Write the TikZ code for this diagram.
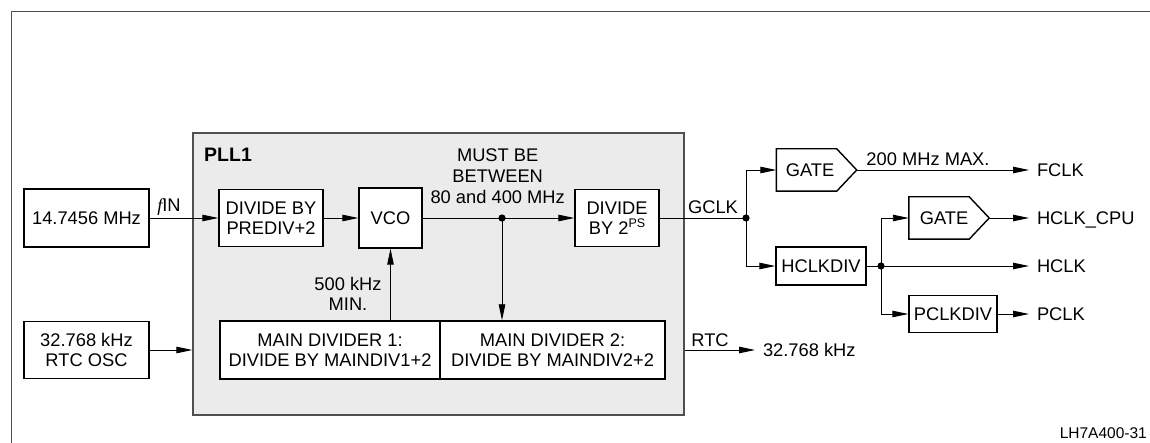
\documentclass[tikz,border=0pt]{standalone}
\usepackage{fontspec}
\setmainfont{Liberation Sans}
\newfontfamily\serifit{Liberation Serif}
\usetikzlibrary{arrows.meta,calc}
\definecolor{pllfill}{RGB}{235,235,235}
\definecolor{pllline}{RGB}{80,80,80}
\begin{document}
\begin{tikzpicture}[x=1pt,y=-1pt,
  font=\fontsize{18.3}{20.5}\selectfont,
  box/.style 2 args={draw=black,line width=1.4pt,fill=white,inner sep=0pt,
    minimum width=#1,minimum height=#2,align=center},
  gate/.style={inner sep=0pt,minimum width=80,minimum height=42},
  gateline/.style={draw=black,line width=1.4pt,fill=white},
  line/.style={draw=black,line width=0.9pt},
  conn/.style={line,-{Triangle[length=16pt,width=6.5pt]}},
  lbl/.style={inner sep=0pt,outer xsep=8pt,anchor=west,text height=13pt,text depth=0pt},
  txt/.style={inner sep=0pt,text height=13pt,text depth=0pt},
  dot/.style={fill=black}]
\useasboundingbox (0,0) rectangle (1150,443);
\draw[draw=pllline,line width=1pt] (11,443) -- (11,11.5) -- (1150,11.5);
% PLL block
\node[draw=pllline,fill=pllfill,line width=1.3pt,minimum width=491,minimum height=282,inner sep=0pt] (pll) at (438.5,274) {};
\node[anchor=west,inner sep=0pt,font=\bfseries\fontsize{19.5}{20}\selectfont,text height=14pt,text depth=0pt] (plltitle) at (204,155) {PLL1};
% boxes
\node[box={125}{58}] (osc) at (86.5,218) {14.7456 MHz};
\node[box={125}{57}] (rtc) at (86.5,350) {32.768 kHz\\RTC OSC};
\node[box={104}{57}] (prediv) at (271,218) {DIVIDE BY\\PREDIV+2};
\node[box={63}{60}] (vco) at (390.5,218) {VCO};
\node[box={84}{57}] (div2) at (617,218) {DIVIDE\\BY 2\raisebox{7pt}{\fontsize{12.5}{12}\selectfont PS}};
\node[box={220}{58}] (md1) at (330,350) {MAIN DIVIDER 1:\\DIVIDE BY MAINDIV1+2};
\node[box={225}{58}] (md2) at (552.5,350) {MAIN DIVIDER 2:\\DIVIDE BY MAINDIV2+2};
\node[box={90}{38}] (hclkdiv) at (821,266) {HCLKDIV};
\node[box={88}{37}] (pclkdiv) at (953,314) {PCLKDIV};
% gates
\node[gate] (g1) at (816.5,170) {};
\draw[gateline] (g1.north west) -- ([xshift=-20pt]g1.north east) -- (g1.east) -- ([xshift=-20pt]g1.south east) -- (g1.south west) -- cycle;
\node[txt] (g1t) at (810,170) {GATE};
\node[gate] (g2) at (949,218) {};
\draw[gateline] (g2.north west) -- ([xshift=-20pt]g2.north east) -- (g2.east) -- ([xshift=-20pt]g2.south east) -- (g2.south west) -- cycle;
\node[txt] (g2t) at (944,218) {GATE};
% junctions
\coordinate (j1) at (502,218);
\coordinate (j2) at (746,218);
\coordinate (j3) at (881,266);
% output labels
\node[lbl] (fclk) at (1029,170) {FCLK};
\node[lbl] (hcpu) at (1029,218) {HCLK\_CPU};
\node[lbl] (hclk) at (1029,266) {HCLK};
\node[lbl] (pclk) at (1029,314) {PCLK};
\node[lbl] (k32) at (755,350) {32.768 kHz};
% connectors
\draw[conn] (osc) -- (prediv);
\draw[conn] (rtc.east) -- (rtc.east -| pll.west);
\draw[conn] (prediv) -- (vco);
\draw[line] (vco.east) -- (j1);
\draw[conn] (j1) -- (div2.west);
\draw[conn] (j1) -- (j1 |- md2.north);
\draw[conn] (vco.south |- md1.north) -- (vco.south);
\draw[line] (div2.east) -- (j2);
\draw[conn] (j2) |- (g1.west);
\draw[conn] (j2) |- (hclkdiv.west);
\draw[conn] (g1.east) -- (fclk.west);
\draw[line] (hclkdiv.east) -- (j3);
\draw[conn] (j3) |- (g2.west);
\draw[conn] (j3) -- (hclk.west);
\draw[conn] (j3) |- (pclkdiv.west);
\draw[conn] (g2.east) -- (hcpu.west);
\draw[conn] (pclkdiv.east) -- (pclk.west);
\draw[conn] (pll.east |- md2.east) -- (k32.west);
\fill[dot] (j1) circle (3.6);
\fill[dot] (j2) circle (3.6);
\fill[dot] (j3) circle (3.6);
% connector labels
\node[txt] (fin) at (169,205) {{\serifit\itshape f}IN};
\node[txt] (gclk) at (713,207) {GCLK};
\node[txt] (rtclbl) at (710,340) {RTC};
\node[txt] (max) at (928,159) {200 MHz MAX.};
\node[align=center,inner sep=0pt,font=\fontsize{18.3}{21}\selectfont] (must) at (497.7,176) {MUST BE\\BETWEEN\\80 and 400 MHz};
\node[align=center,inner sep=0pt] (min) at (348,294) {500 kHz\\MIN.};
\node[anchor=east,inner sep=0pt,font=\fontsize{15.5}{16}\selectfont,text height=11pt,text depth=0pt] (fig) at (1147,433) {LH7A400-31};
\end{tikzpicture}
\end{document}
